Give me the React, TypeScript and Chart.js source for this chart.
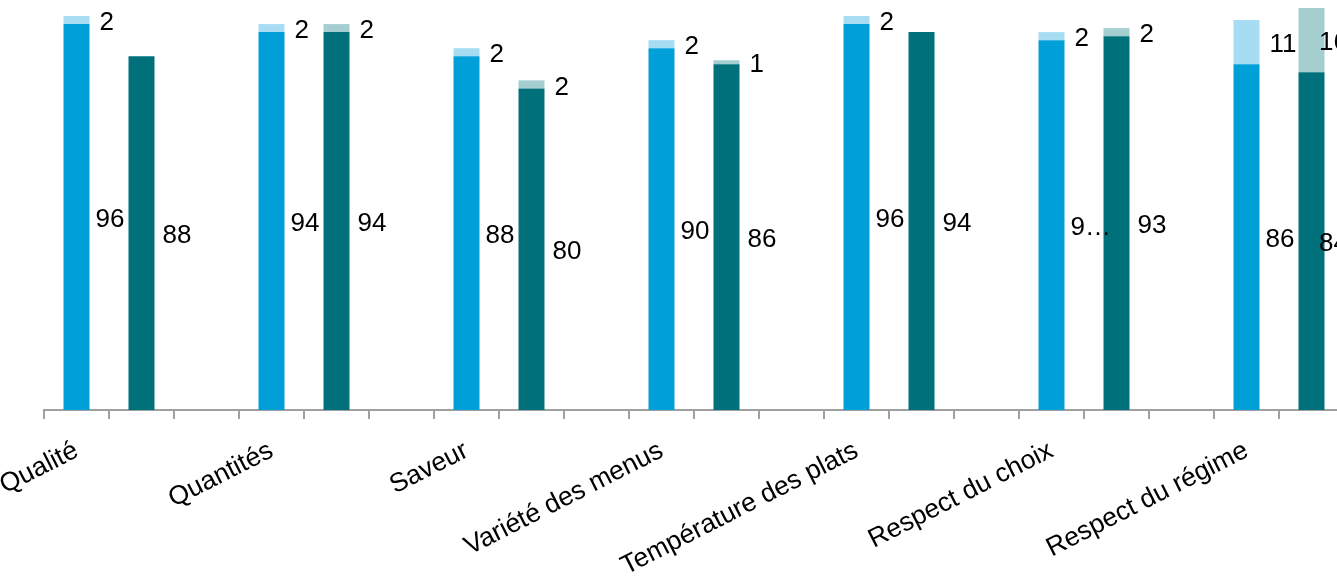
import React, { useEffect, useRef } from "react";
import { Chart, registerables } from "chart.js";

Chart.register(...registerables);

const categories = [
  "Qualité",
  "Quantités",
  "Saveur",
  "Variété des menus",
  "Température des plats",
  "Respect du choix",
  "Respect du régime",
];
const blueMain = [96, 94, 88, 90, 96, 92, 86];
const blueTop = [2, 2, 2, 2, 2, 2, 11];
const tealMain = [88, 94, 80, 86, 94, 93, 84];
const tealTop: (number | null)[] = [null, 2, 2, 1, null, 2, 16];
const blueMainText = ["96", "94", "88", "90", "96", "9…", "86"];

const SLOTS = 3;
const slotLabels: string[] = [];
categories.forEach((c) => {
  slotLabels.push(c, "", "");
});
function spread(values: (number | null)[], slot: number) {
  const out: (number | null)[] = [];
  values.forEach((v) => {
    for (let s = 0; s < SLOTS; s++) out.push(s === slot ? v : null);
  });
  return out;
}
function spreadText(values: string[], slot: number) {
  const out: (string | null)[] = [];
  values.forEach((v) => {
    for (let s = 0; s < SLOTS; s++) out.push(s === slot ? v : null);
  });
  return out;
}

const FONT = "Liberation Sans, Arial, sans-serif";
const LABEL_RIGHT_LIMIT = 1348;

const valueLabels = {
  id: "valueLabels",
  afterDatasetsDraw(chart: any) {
    const ctx = chart.ctx;
    ctx.save();
    ctx.font = `26px ${FONT}`;
    ctx.fillStyle = "#000";
    ctx.textAlign = "left";
    ctx.textBaseline = "middle";
    chart.data.datasets.forEach((ds: any, di: number) => {
      const meta = chart.getDatasetMeta(di);
      meta.data.forEach((el: any, i: number) => {
        const v = ds.data[i];
        if (v === null || v === undefined) return;
        const txt = ds.texts ? ds.texts[i] : String(v);
        if (!txt) return;
        const right = el.x + el.width / 2;
        const cy = (el.y + el.base) / 2 + 3;
        const w = ctx.measureText(txt).width;
        const x = Math.min(right + ds.labelGap, LABEL_RIGHT_LIMIT - w);
        ctx.fillText(txt, x, cy);
      });
    });
    ctx.restore();
  },
};

export default function App() {
  const ref = useRef<HTMLCanvasElement | null>(null);
  useEffect(() => {
    if (!ref.current) return;
    const chart = new Chart(ref.current, {
      type: "bar",
      data: {
        labels: slotLabels,
        datasets: [
          {
            label: "A",
            data: spread(blueMain, 0),
            texts: spreadText(blueMainText, 0),
            backgroundColor: "#009FD7",
            labelGap: 6,
          } as any,
          {
            label: "A+",
            data: spread(blueTop, 0),
            backgroundColor: "#A7DDF2",
            labelGap: 10,
          } as any,
          {
            label: "B",
            data: spread(tealMain, 1),
            backgroundColor: "#00717A",
            labelGap: 8,
          } as any,
          {
            label: "B+",
            data: spread(tealTop, 1),
            backgroundColor: "#A5CED1",
            labelGap: 10,
          } as any,
        ],
      },
      options: {
        animation: false,
        responsive: false,
        events: [],
        layout: { padding: { left: 44, top: 8, right: 11, bottom: 0 } },
        datasets: {
          bar: { barPercentage: 0.4, categoryPercentage: 1.0, borderWidth: 0 },
        },
        plugins: { legend: { display: false }, tooltip: { enabled: false } },
        scales: {
          x: {
            stacked: true,
            offset: true,
            grid: {
              display: true,
              offset: true,
              drawOnChartArea: false,
              drawTicks: true,
              tickLength: 9,
              color: "#A0A0A0",
              lineWidth: 2,
            },
            border: { display: true, color: "#A0A0A0", width: 2 },
            ticks: {
              autoSkip: false,
              minRotation: 27,
              maxRotation: 27,
              padding: 16,
              color: "#000",
              font: { family: FONT, size: 26.5 },
            },
            afterFit(scale: any) {
              scale.height = 168;
              scale.paddingLeft = 0;
              scale.paddingRight = 0;
            },
          },
          y: {
            stacked: true,
            display: false,
            min: 0,
            max: 100,
          },
        },
      },
      plugins: [valueLabels],
    });
    return () => chart.destroy();
  }, []);
  return (
    <div
      style={{
        position: "absolute",
        left: 0,
        top: 0,
        width: 1337,
        height: 578,
        overflow: "hidden",
        background: "#fff",
      }}
    >
      <canvas ref={ref} width={1420} height={578} style={{ display: "block" }} />
    </div>
  );
}
